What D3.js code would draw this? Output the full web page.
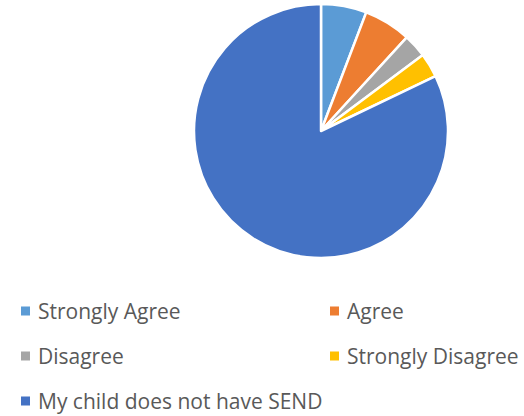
<!DOCTYPE html>
<html><head><meta charset="utf-8">
<script src="https://cdn.jsdelivr.net/npm/d3@7"></script>
<style>body{margin:0;background:#fff}svg{display:block}</style>
</head><body>
<script>
const categories = ["Strongly Agree","Agree","Disagree","Strongly Disagree","My child does not have SEND"];
const values = [5.8, 6.0, 3.0, 3.1, 82.1];
const colors = ["#5B9BD5","#ED7D31","#A5A5A5","#FFC000","#4472C4"];

const W=524,H=416;
const svg=d3.select("body").append("svg").attr("width",W).attr("height",H);
const cx=321,cy=131,r=127;
const pie=d3.pie().sort(null).value(d=>d.v);
const arc=d3.arc().innerRadius(0).outerRadius(r);
const data=categories.map((c,i)=>({c,v:values[i],col:colors[i]}));
svg.append("g").attr("transform",`translate(${cx},${cy})`)
  .selectAll("path").data(pie(data)).join("path")
  .attr("d",arc).attr("fill",d=>d.data.col)
  .attr("stroke","#fff").attr("stroke-width",2.5).attr("stroke-linejoin","round");

const pos=[[21,319],[330,319],[21,364],[330,364],[21,409]];
const lg=svg.append("g");
data.forEach((d,i)=>{
  const [x,y]=pos[i];
  lg.append("rect").attr("x",x).attr("y",y-12.5).attr("width",9).attr("height",9).attr("fill",d.col);
  lg.append("text").attr("x",x+17).attr("y",y).text(d.c)
    .attr("font-family","Open Sans, sans-serif").attr("font-size",21).attr("fill","#595959");
});
</script>
</body></html>
